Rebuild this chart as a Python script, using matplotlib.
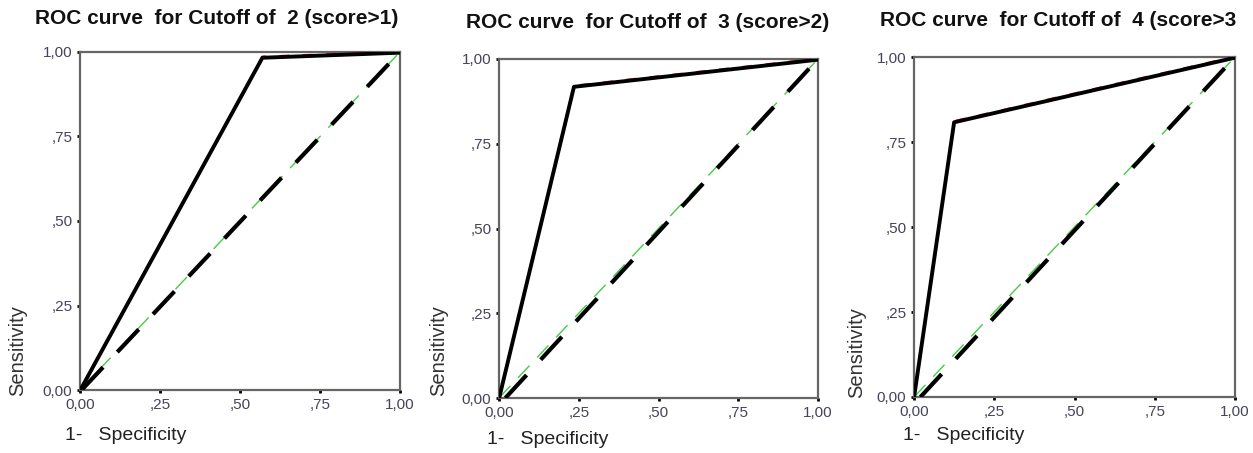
import matplotlib
matplotlib.use("Agg")
import matplotlib.pyplot as plt

plt.rcParams['font.family'] = ['Liberation Sans', 'DejaVu Sans']

# ------------------- Данные -------------------
titles = ["ROC curve  for Cutoff of  2 (score>1)",
          "ROC curve  for Cutoff of  3 (score>2)",
          "ROC curve  for Cutoff of  4 (score>3"]
roc_x = [[0.0, 0.57, 1.0], [0.0, 0.235, 1.0], [0.0, 0.125, 1.0]]
roc_y = [[0.0, 0.985, 1.0], [0.0, 0.92, 1.0], [0.0, 0.81, 1.0]]
ref_x = [[0.005, 1.0], [0.02, 1.0], [0.02, 1.0]]
ref_y = [[0.0, 1.0], [0.0, 1.0], [0.0, 1.0]]
ticks = [0.0, 0.25, 0.5, 0.75, 1.0]
tick_labels = ["0,00", ",25", ",50", ",75", "1,00"]

# ------------------- Расположение -------------------
W, H = 1253, 453
axes_px = [(80, 52, 400, 390), (499, 59, 818, 398), (914, 57, 1235, 397)]
title_px = [(217, 18, 'center'), (648, 22, 'center'), (880, 20, 'left')]
ylab_px = [(18, 351), (439, 351), (857, 353)]
xlab_px = [(65, 435), (487, 440), (903, 435)]

fig = plt.figure(figsize=(W / 100, H / 100), dpi=100)

for i in range(3):
    l, t, r, b = axes_px[i]
    ax = fig.add_axes([l / W, 1 - b / H, (r - l) / W, (b - t) / H])

    # диагональ (зелёная подложка + чёрный пунктир)
    ax.plot([0, 1], [0, 1], color='#44cc44', lw=1.0, dashes=(12, 8), zorder=2)
    ax.plot(ref_x[i], ref_y[i], color='black', lw=3, dashes=(7.5, 5), zorder=3)

    # ROC-кривая (красная подложка + чёрная линия)
    ax.plot(roc_x[i], [y + 0.002 for y in roc_y[i]], color='#dd2222', lw=1.2,
            dashes=(6, 8), zorder=4)
    ax.plot(roc_x[i], [y - 0.002 for y in roc_y[i]], color='black', lw=2.8, zorder=5)

    ax.set_xlim(0, 1)
    ax.set_ylim(0, 1)
    ax.set_xticks(ticks)
    ax.set_yticks(ticks)
    ax.set_xticklabels(tick_labels)
    ax.set_yticklabels(tick_labels)
    ax.tick_params(direction='out', length=2.5, width=2, color='black',
                   labelsize=11, labelcolor='#44445a', pad=3)
    for s in ax.spines.values():
        s.set_color('#666666')
        s.set_linewidth(1.6)

    tx, ty, ha = title_px[i]
    fig.text(tx / W, 1 - ty / H, titles[i], ha=ha, va='center',
             fontsize=15, fontweight='bold', color='#111111')
    yx, yy = ylab_px[i]
    fig.text(yx / W, 1 - yy / H, "Sensitivity", rotation=90, ha='center',
             va='center', fontsize=14.5, color='#333333')
    xx, xy = xlab_px[i]
    fig.text(xx / W, 1 - xy / H, "1-   Specificity", ha='left', va='center',
             fontsize=14, color='#222222')

fig.savefig("out.png", dpi=100, facecolor='white')
